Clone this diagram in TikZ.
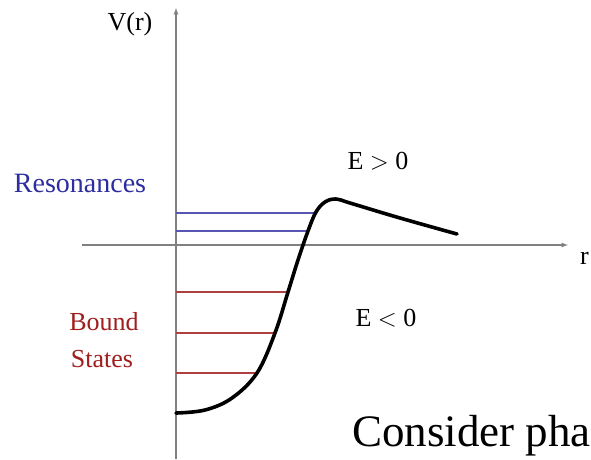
\documentclass[tikz,border=0pt]{standalone}
\usepackage{fontspec}
\setmainfont{Liberation Serif}
\definecolor{resblue}{RGB}{45,45,160}
\definecolor{boundred}{RGB}{160,30,30}
\begin{document}
\begin{tikzpicture}[x=1pt,y=-1pt,
    axis/.style={draw=gray,line width=1.2pt,-latex},
    resline/.style={draw=resblue!80,line width=1.3pt},
    boundline/.style={draw=boundred!85,line width=1.3pt},
    lbl/.style={font=\fontsize{26}{28}\selectfont,inner sep=0pt}]
      \useasboundingbox[fill=white] (0,0) rectangle (591,459);
      % axes
      \coordinate (o) at (176,245);
      \coordinate (ybot) at (176,459);
      \coordinate (ytop) at (176,8);
      \coordinate (xl) at (82,245);
      \coordinate (xr) at (568,245);
      \draw[axis] (ybot) -- (ytop);
      \draw[axis] (xl) -- (xr);
      \node[lbl] (vlabel) at (130,24) {V(r)};
      \node[lbl,anchor=north west] (rlabel) at (580,252) {r};
      % levels
      \foreach \y/\x in {213/315,231/308} {
        \draw[resline] (176,\y) -- (\x,\y);
      }
      \foreach \y/\x in {292/288,333/275,373/257} {
        \draw[boundline] (176,\y) -- (\x,\y);
      }
      % potential
      \draw[line width=3.6pt,line cap=round,line join=round] plot[smooth,tension=0.6] coordinates {
        (176,413) (205,410) (232,398) (257,373) (275,333) (288,292) (298,260)
        (308,231) (316,212) (325,202) (336,199) (350,203) (400,218) (457,234)};
      \node[lbl] (epos) at (378,161) {E $>$ 0};
      \node[lbl] (eneg) at (386,318) {E $<$ 0};
      \node[lbl,text=resblue,font=\fontsize{28}{30}\selectfont] (res) at (80,183) {Resonances};
      \node[lbl,text=boundred] (bound) at (104,322) {Bound};
      \node[lbl,text=boundred] (states) at (102,359) {States};
      \node[anchor=base west,inner sep=0pt,font=\fontsize{45}{49}\selectfont] (consider) at (352,446) {Consider pha};
    \end{tikzpicture}
\end{document}
